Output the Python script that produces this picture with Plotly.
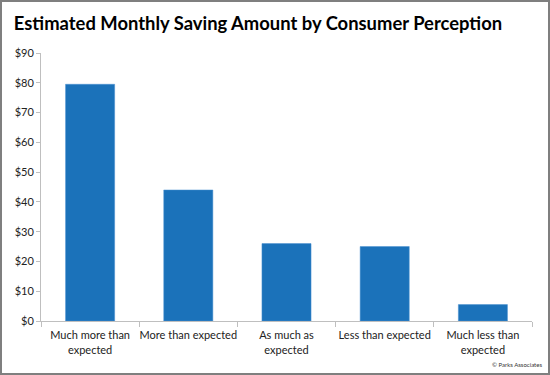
import plotly.graph_objects as go

categories = ["Much more than<br>expected", "More than expected", "As much as<br>expected",
              "Less than expected", "Much less than<br>expected"]
values = [79.5, 44, 26, 25, 5.5]

W, H = 550, 375
ml, mr, mt, mb = 41, 18, 53, 54
pw, ph = W - ml - mr, H - mt - mb

fig = go.Figure(go.Bar(x=categories, y=values, marker=dict(color="#1b72ba", line=dict(color="#4a90d0", width=0.5))))

fig.update_layout(
    width=W, height=H,
    margin=dict(l=ml, r=mr, t=mt, b=mb, autoexpand=False),
    paper_bgcolor="white", plot_bgcolor="white",
    bargap=0.5,
    showlegend=False,
    font=dict(family="Lato, Open Sans, sans-serif", color="#222222"),
    title=dict(text="<b>Estimated Monthly Saving Amount by Consumer Perception</b>",
               x=258 / W, xref="container", xanchor="center", y=1 - 24 / H, yanchor="middle",
               font=dict(size=18.4, color="black", family="Lato, sans-serif"), automargin=False),
    xaxis=dict(showline=True, linecolor="#bfbfbf", linewidth=1, ticks="outside",
               tickson="boundaries", ticklen=5, tickcolor="#bfbfbf", tickangle=0, automargin=False,
               tickfont=dict(size=11, color="#222222"), showgrid=False, ticklabelstandoff=4),
    yaxis=dict(range=[0, 90], dtick=10, tickprefix="$", showline=True, linecolor="#bfbfbf",
               linewidth=1, ticks="outside", ticklen=4, tickcolor="#bfbfbf", automargin=False,
               tickfont=dict(size=11, color="#222222"), showgrid=False, zeroline=False),
)

fig.add_shape(type="rect", xref="paper", yref="paper",
              x0=(1 - ml) / pw, x1=(W - 1 - ml) / pw,
              y0=(mt + ph - (H - 1)) / ph, y1=(mt + ph - 1) / ph,
              line=dict(color="#7f7f7f", width=2), fillcolor="rgba(0,0,0,0)", layer="above")

fig.add_annotation(text="© Parks Associates", xref="paper", yref="paper",
                   x=(544 - ml) / pw, y=(mt + ph - 364) / ph, xanchor="right", yanchor="middle",
                   showarrow=False, font=dict(size=6, color="#333333"))

fig.write_html("out.html", config={"displayModeBar": False},
               post_script="document.body.style.margin='0px';document.body.style.padding='0px';")
